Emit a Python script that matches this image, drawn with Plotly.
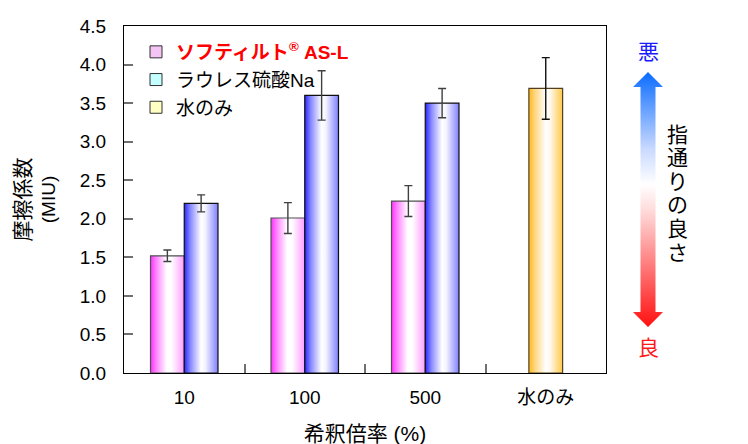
import plotly.graph_objects as go

# ---------------- data ----------------
categories = ["10", "100", "500", "水のみ"]
softilt_vals = [1.52, 2.01, 2.23]
softilt_err = [0.075, 0.20, 0.20]
laureth_vals = [2.20, 3.60, 3.50]
laureth_err = [0.11, 0.32, 0.19]
water_vals = [3.69]
water_err = [0.40]
y_tick_vals = [0.0, 0.5, 1.0, 1.5, 2.0, 2.5, 3.0, 3.5, 4.0, 4.5]
y_tick_text = ["0.0", "0.5", "1.0", "1.5", "2.0", "2.5", "3.0", "3.5", "4.0", "4.5"]
scale_label = "指通りの良さ"

FONT = "Arial, 'Liberation Sans', 'Noto Sans CJK JP', sans-serif"
W, H = 748, 444
OFF = 8  # page body margin offset
ML, MR, MT = 124 - OFF, 0, 26 - OFF
MB = H - (373 - OFF)
PLOT_R = 606 - OFF  # right edge of main plot (px)
paper_w = W - ML - MR
paper_h = H - MT - MB
x_dom_end = (PLOT_R - ML) / paper_w

BAR_W = 0.28

series = [
    dict(name="<span style='color:#ff0000'><b>ソフティルト<sup>®</sup> AS-L</b></span>",
         cats=categories[:3], vals=softilt_vals, errs=softilt_err, shift=-0.5,
         scale=[[0, "#ff30ff"], [0.18, "#ff88ff"], [0.48, "#ffffff"], [0.62, "#ffffff"], [1, "#ff9cff"]],
         line="#505050", legend="#f4c4f4", errcolor="#404040"),
    dict(name="ラウレス硫酸Na",
         cats=categories[:3], vals=laureth_vals, errs=laureth_err, shift=0.5,
         scale=[[0, "#2828ff"], [0.18, "#8888ff"], [0.5, "#ffffff"], [0.62, "#f4f4ff"], [1, "#8080ff"]],
         line="#101010", legend="#c4ffff", errcolor="#404040"),
    dict(name="水のみ",
         cats=categories[3:], vals=water_vals, errs=water_err, shift=0.0,
         scale=[[0, "#ffb820"], [0.18, "#ffd680"], [0.5, "#ffffff"], [0.62, "#fffaf0"], [1, "#ffc848"]],
         line="#504020", legend="#ffffc4", errcolor="#101010"),
]

fig = go.Figure()

# gradient bars (one filled polygon per bar, computed from data)
for s in series:
    for c, v in zip(s["cats"], s["vals"]):
        ci = categories.index(c)
        xc = ci + s["shift"] * BAR_W
        x0, x1 = xc - BAR_W / 2, xc + BAR_W / 2
        fig.add_trace(go.Scatter(
            x=[x0, x0, x1, x1, x0], y=[0, v, v, 0, 0],
            mode="lines", fill="toself",
            fillgradient=dict(type="horizontal", colorscale=s["scale"]),
            line=dict(color=s["line"], width=1.2),
            showlegend=False, hoverinfo="skip"))

# error bars
for s in series:
    xs = [categories.index(c) + s["shift"] * BAR_W for c in s["cats"]]
    fig.add_trace(go.Scatter(
        x=xs, y=s["vals"], mode="markers",
        marker=dict(size=1, color="rgba(0,0,0,0)"),
        error_y=dict(type="data", array=s["errs"], color=s["errcolor"], thickness=1.4, width=4),
        showlegend=False, hoverinfo="skip"))

# legend entries
for s in series:
    fig.add_trace(go.Scatter(
        x=[None], y=[None], mode="markers", name=s["name"],
        marker=dict(symbol="square", size=12, color=s["legend"], line=dict(color="#303030", width=1))))

# ---------------- right-side gradient arrow (pixel coords on helper axes) ----------------
def Y(p):  # reference pixel row -> helper axis value
    return H - (p - OFF)

def X(p):
    return p - OFF

acx = 648
ay = [72, 87, 312, 327]  # tip, head base, head base, tip
sh, hh = 7.5, 15
px = [acx, acx + hh, acx + sh, acx + sh, acx + hh, acx, acx - hh, acx - sh, acx - sh, acx - hh, acx]
py = [ay[0], ay[1], ay[1], ay[2], ay[2], ay[3], ay[2], ay[2], ay[1], ay[1], ay[0]]
fig.add_trace(go.Scatter(
    x=[X(p) for p in px], y=[Y(p) for p in py], xaxis="x2", yaxis="y2", mode="lines", fill="toself",
    fillgradient=dict(type="vertical",
                      colorscale=[[0, "#ff1010"], [0.45, "#ffd8d8"], [0.56, "#ffffff"], [0.7, "#c8d8ff"], [1, "#0a6cff"]]),
    line=dict(width=0, color="rgba(0,0,0,0)"),
    showlegend=False, hoverinfo="skip"))

fig.add_annotation(x=X(648), y=Y(51), xref="x2", yref="y2", text="悪", showarrow=False,
                   font=dict(family=FONT, size=21, color="#1a1aff"))
fig.add_annotation(x=X(648), y=Y(347), xref="x2", yref="y2", text="良", showarrow=False,
                   font=dict(family=FONT, size=21, color="#ff1a1a"))
for i, ch in enumerate(scale_label):
    fig.add_annotation(x=X(677), y=Y(134 + i * 23.6), xref="x2", yref="y2", text=ch, showarrow=False,
                       font=dict(family=FONT, size=21, color="#000000"))

# ---------------- layout ----------------
fig.update_layout(
    width=W, height=H,
    margin=dict(l=ML, r=MR, t=MT, b=MB, autoexpand=False),
    paper_bgcolor="white", plot_bgcolor="white",
    font=dict(family=FONT, size=18, color="black"),
    showlegend=True,
    legend=dict(x=(136 - ML - OFF) / paper_w, y=1 - (33 - OFF - MT) / paper_h, xanchor="left", yanchor="top",
                bgcolor="rgba(0,0,0,0)", font=dict(family=FONT, size=19), itemwidth=30,
                tracegroupgap=0),
    xaxis=dict(domain=[0, x_dom_end], range=[-0.5, 3.5], tickmode="array",
               tickvals=list(range(len(categories))), ticktext=categories, ticks="",
               showline=True, linecolor="black", linewidth=1.2, mirror=True, automargin=False,
               showgrid=False, zeroline=False, tickfont=dict(size=19), ticklabelstandoff=7,
               minor=dict(tickmode="array", tickvals=[0.5, 1.5, 2.5], ticks="inside",
                          ticklen=9, tickcolor="#707070", tickwidth=1.5),
               title=dict(text="希釈倍率 (%)", font=dict(size=21), standoff=19)),
    yaxis=dict(domain=[0, 1], range=[0, 4.5], tickmode="array",
               tickvals=y_tick_vals, ticktext=y_tick_text, ticks="inside", ticklen=9,
               tickcolor="#707070", tickwidth=1.5, automargin=False,
               showline=True, linecolor="black", linewidth=1.2, mirror=True,
               showgrid=False, zeroline=False, tickfont=dict(size=19), ticklabelstandoff=13,
               title=dict(text="<span style='font-size:21px'>摩擦係数</span><br>(MIU)",
                          font=dict(size=19), standoff=19)),
    xaxis2=dict(domain=[x_dom_end, 1], range=[PLOT_R, W], visible=False, anchor="y2"),
    yaxis2=dict(domain=[0, 1], range=[MB, H - MT], visible=False, anchor="x2"),
)

fig.write_html("out.html")
